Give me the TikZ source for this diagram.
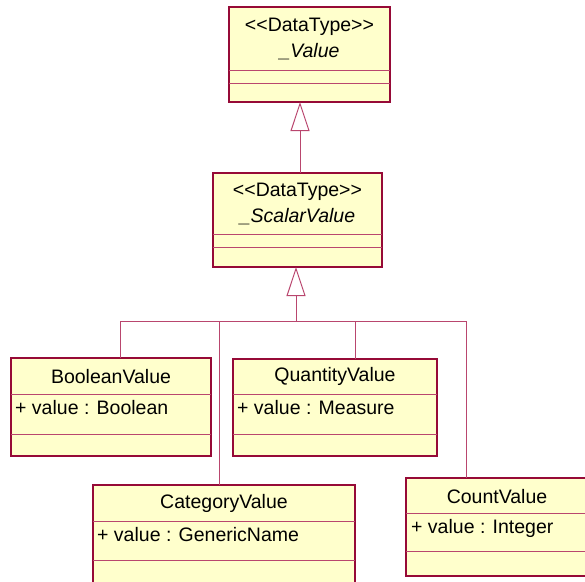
\documentclass[tikz,border=0pt]{standalone}
\usepackage{fontspec}
\setmainfont[Ligatures=NoCommon]{Liberation Sans}
\usetikzlibrary{arrows.meta}
\definecolor{umlborder}{RGB}{150,10,55}
\definecolor{umlline}{RGB}{185,70,110}
\definecolor{umlfill}{RGB}{255,255,204}
\tikzset{
  classbox/.style={draw=umlborder, line width=1.1pt, fill=umlfill, inner sep=0pt, outer sep=0pt, anchor=north west},
  sepline/.style={draw=umlline, line width=0.9pt},
  conn/.style={draw=umlline, line width=1pt},
  gen/.style={conn, -{Triangle[open, length=29pt, width=19pt, line width=1pt]}},
  txt/.style={inner sep=0pt, font=\fontsize{19.5}{21}\selectfont, text=black},
  attr/.style={txt, anchor=west},
}
\newcommand{\stereo}{\textless{}\textless{}DataType\textgreater{}\textgreater{}}
\begin{document}
\begin{tikzpicture}[x=1pt, y=-1pt]
\useasboundingbox (0,0) rectangle (585,581);

% _Value
\node[classbox, minimum width=161pt, minimum height=95pt] (value) at (229,7) {};
\draw[sepline] (value.west |- 0,70) -- (value.east |- 0,70);
\draw[sepline] (value.west |- 0,83) -- (value.east |- 0,83);
\node[txt] (valueS) at (309.5,27) {\stereo};
\node[txt] (valueN) at (309.5,52) {\itshape \_Value};

% _ScalarValue
\node[classbox, minimum width=169pt, minimum height=94pt] (scalar) at (213,173) {};
\draw[sepline] (scalar.west |- 0,234) -- (scalar.east |- 0,234);
\draw[sepline] (scalar.west |- 0,247) -- (scalar.east |- 0,247);
\node[txt] (scalarS) at (297.5,192) {\stereo};
\node[txt] (scalarN) at (297.5,217) {\itshape \_ScalarValue};

% BooleanValue
\node[classbox, minimum width=200pt, minimum height=98pt] (boolean) at (11,358) {};
\draw[sepline] (boolean.west |- 0,394) -- (boolean.east |- 0,394);
\draw[sepline] (boolean.west |- 0,434) -- (boolean.east |- 0,434);
\node[txt] (booleanN) at (111,377) {BooleanValue};
\node[attr] (booleanA) at (15,408) {+ value : Boolean};

% QuantityValue
\node[classbox, minimum width=204pt, minimum height=97pt] (quantity) at (233,359) {};
\draw[sepline] (quantity.west |- 0,394) -- (quantity.east |- 0,394);
\draw[sepline] (quantity.west |- 0,434) -- (quantity.east |- 0,434);
\node[txt] (quantityN) at (335,376) {QuantityValue};
\node[attr] (quantityA) at (237,408) {+ value : Measure};

% CategoryValue
\node[classbox, minimum width=262pt, minimum height=120pt] (category) at (93,485) {};
\draw[sepline] (category.west |- 0,521) -- (category.east |- 0,521);
\draw[sepline] (category.west |- 0,560) -- (category.east |- 0,560);
\node[txt] (categoryN) at (224,503) {CategoryValue};
\node[attr] (categoryA) at (97,535) {+ value : GenericName};

% CountValue
\node[classbox, minimum width=184pt, minimum height=98pt] (count) at (406,478) {};
\draw[sepline] (count.west |- 0,513) -- (count.east |- 0,513);
\draw[sepline] (count.west |- 0,551) -- (count.east |- 0,551);
\node[txt] (countN) at (497,497) {CountValue};
\node[attr] (countA) at (411,528) {+ value : Integer};

% generalization _ScalarValue -> _Value
\coordinate (g1) at (300,172);
\draw[gen] (scalar.north -| g1) -- (value.south -| g1);

% generalization tree -> _ScalarValue
\coordinate (j)  at (296,321);
\coordinate (jb) at (120,321);
\coordinate (jc) at (219,321);
\coordinate (jq) at (355,321);
\coordinate (jn) at (466,321);
\draw[gen] (j) -- (scalar.south -| j);
\draw[conn] (jb) -- (jn);
\draw[conn] (jb) -- (boolean.north -| jb);
\draw[conn] (jc) -- (category.north -| jc);
\draw[conn] (jq) -- (quantity.north -| jq);
\draw[conn] (jn) -- (count.north -| jn);
\end{tikzpicture}
\end{document}
